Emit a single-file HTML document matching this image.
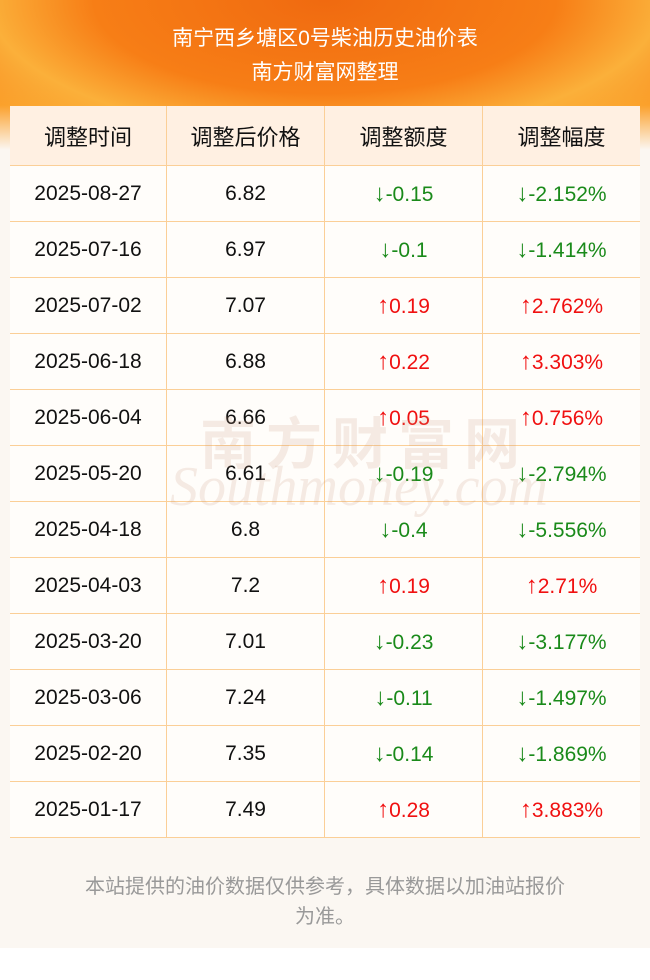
<!DOCTYPE html>
<html><head><meta charset="utf-8"><style>
body{margin:0;width:650px;height:980px;background:#fff;font-family:"Liberation Sans","Noto Sans CJK SC",sans-serif;overflow:hidden}
.page{position:absolute;left:0;top:0;width:650px;height:948px;background:#fbf7f2}
.hdr{position:absolute;left:0;top:0;width:650px;height:150px;background:radial-gradient(ellipse 420px 170px at 325px 0px,#f06a10 0%,#f77e16 55%,#fbb03a 80%,rgba(251,247,242,0) 100%),linear-gradient(#f06a10,#fba02a 70%,#fbf7f2)}
.t{position:absolute;left:0;width:650px;text-align:center;color:#fff;font-size:21px}
table{position:absolute;left:10px;top:106px;width:630px;border-collapse:collapse;background:#fffdfa}
td{height:55px;border:1px solid #fbcf97;text-align:center;font-size:21px;color:#111;padding:0}
tr td:first-child{border-left:none}tr td:last-child{border-right:none}
tr:first-child td{border-top:none;background:#fff0e2;height:59px;font-size:22px}
.g{color:#1a8a1a}.r{color:#f01010}
.a{font-size:24px}
.wm{position:absolute;left:200px;top:400px;font-size:56px;color:rgba(200,150,120,0.18);letter-spacing:10px;font-weight:bold}
.wm2{position:absolute;left:170px;top:455px;font-size:56px;color:rgba(200,150,120,0.18);font-style:italic;font-family:"Liberation Serif",serif}
.f{position:absolute;left:0;width:650px;text-align:center;color:#999;font-size:20px}
</style></head><body>
<div class="page"></div><div class="hdr"></div>
<div class="t" style="top:22px">南宁西乡塘区0号柴油历史油价表</div>
<div class="t" style="top:56px">南方财富网整理</div>
<table>
<tr><td style="width:156px">调整时间</td><td style="width:157px">调整后价格</td><td style="width:157px">调整额度</td><td>调整幅度</td></tr>
<tr><td>2025-08-27</td><td>6.82</td><td class="g"><span class="a">↓</span>-0.15</td><td class="g"><span class="a">↓</span>-2.152%</td></tr>
<tr><td>2025-07-16</td><td>6.97</td><td class="g"><span class="a">↓</span>-0.1</td><td class="g"><span class="a">↓</span>-1.414%</td></tr>
<tr><td>2025-07-02</td><td>7.07</td><td class="r"><span class="a">↑</span>0.19</td><td class="r"><span class="a">↑</span>2.762%</td></tr>
<tr><td>2025-06-18</td><td>6.88</td><td class="r"><span class="a">↑</span>0.22</td><td class="r"><span class="a">↑</span>3.303%</td></tr>
<tr><td>2025-06-04</td><td>6.66</td><td class="r"><span class="a">↑</span>0.05</td><td class="r"><span class="a">↑</span>0.756%</td></tr>
<tr><td>2025-05-20</td><td>6.61</td><td class="g"><span class="a">↓</span>-0.19</td><td class="g"><span class="a">↓</span>-2.794%</td></tr>
<tr><td>2025-04-18</td><td>6.8</td><td class="g"><span class="a">↓</span>-0.4</td><td class="g"><span class="a">↓</span>-5.556%</td></tr>
<tr><td>2025-04-03</td><td>7.2</td><td class="r"><span class="a">↑</span>0.19</td><td class="r"><span class="a">↑</span>2.71%</td></tr>
<tr><td>2025-03-20</td><td>7.01</td><td class="g"><span class="a">↓</span>-0.23</td><td class="g"><span class="a">↓</span>-3.177%</td></tr>
<tr><td>2025-03-06</td><td>7.24</td><td class="g"><span class="a">↓</span>-0.11</td><td class="g"><span class="a">↓</span>-1.497%</td></tr>
<tr><td>2025-02-20</td><td>7.35</td><td class="g"><span class="a">↓</span>-0.14</td><td class="g"><span class="a">↓</span>-1.869%</td></tr>
<tr><td>2025-01-17</td><td>7.49</td><td class="r"><span class="a">↑</span>0.28</td><td class="r"><span class="a">↑</span>3.883%</td></tr>
</table>
<div class="wm">南方财富网</div>
<div class="wm2">Southmoney.com</div>
<div class="f" style="top:870px">本站提供的油价数据仅供参考，具体数据以加油站报价</div>
<div class="f" style="top:900px">为准。</div>
</body></html>
